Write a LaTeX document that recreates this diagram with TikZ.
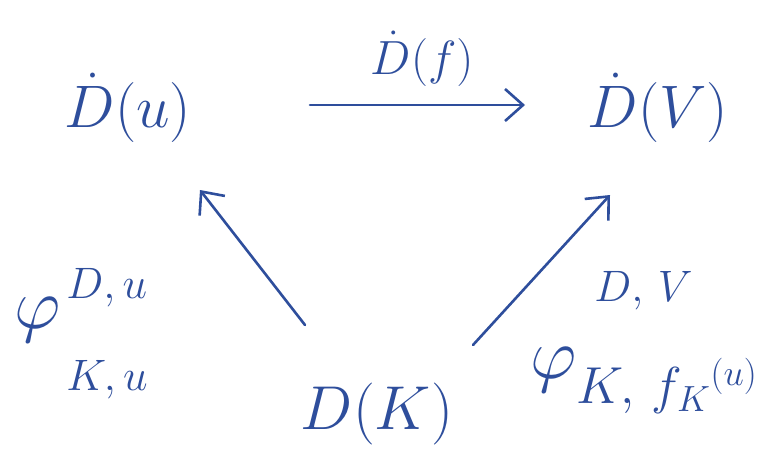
\RequirePackage{fix-cm}
\documentclass[tikz,border=0pt]{standalone}
\usetikzlibrary{arrows.meta}
\definecolor{ink}{HTML}{2E4E9C}
\newcommand{\bigphi}{{\fontsize{72}{72}\selectfont$\varphi$}}
\newcommand{\fsz}[1]{\fontsize{#1}{#1}\selectfont}
\begin{document}
\begin{tikzpicture}[x=1pt,y=-1pt,
  obj/.style={inner sep=0pt, text=ink, font=\fontsize{60}{64}\selectfont},
  lbl/.style={inner sep=0pt, text=ink, font=\fontsize{48}{52}\selectfont},
  phi/.style={inner sep=0pt, text=ink, font=\fontsize{44}{48}\selectfont},
  arr/.style={draw=ink, line width=2.6pt, line cap=round,
    -{Straight Barb[length=18pt,width=32pt,line width=2.6pt]}}]
\useasboundingbox[fill=white] (0,0) rectangle (779,463);
\node[obj] (du) at (128,108) {$\dot{D}(u)$};
\node[obj] (dv) at (658,108) {$\dot{D}(V)$};
\node[obj, font=\fontsize{62}{66}\selectfont] (dk) at (377,414) {$D(K)$};
\node[lbl] (df) at (422,59) {$\dot{D}(f)$};
\node[phi, anchor=west] (pl) at (14,335) {\raisebox{18pt}{\bigphi}\hspace{6pt}\begin{tabular}{@{}l@{}}$D,u$\\[44pt]$K,u$\end{tabular}};
\node[phi, anchor=west] (pr) at (530,343) {\raisebox{-24pt}{\bigphi}\begin{tabular}{@{}l@{}}\hspace{18pt}$D,\,V$\\[42pt]{\fsz{52}$K,\,f_K{}^{\scriptstyle(u)}$}\end{tabular}};
\draw[arr] ([shift={(182,-3)}]du.center) -- ([shift={(-133,-3)}]dv.center);
\draw[arr] ([shift={(-72,-89)}]dk.center) -- ([shift={(72,82)}]du.center);
\draw[arr] ([shift={(96,-69)}]dk.center) -- ([shift={(-48,87)}]dv.center);
\end{tikzpicture}
\end{document}
